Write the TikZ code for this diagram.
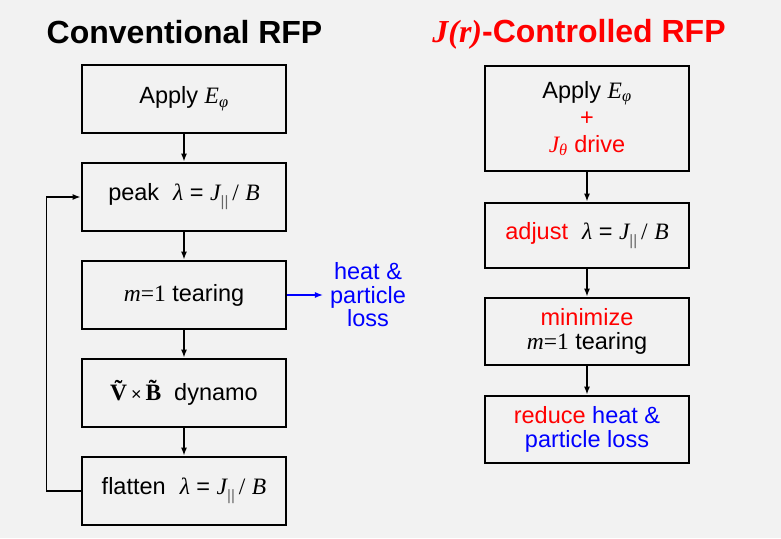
\documentclass[tikz,border=0pt]{standalone}
\usepackage[no-math]{fontspec}
\setmainfont{Liberation Sans}
\newfontfamily\headserif{Liberation Serif}
\usepackage{xcolor}
\usepackage{tikz}
\usetikzlibrary{arrows.meta,positioning}
\definecolor{rfpred}{RGB}{255,0,0}
\definecolor{rfpblue}{RGB}{0,0,255}
\definecolor{rfpbg}{RGB}{242,242,242}
\newcommand\rfpvar[1]{{\headserif\itshape #1}}
\newcommand\rfplambda{\rfpvar{λ} = \rfpvar{J}\raisebox{-6pt}{\fontsize{15}{15}\selectfont\color{black!60}||}\,{\headserif/} \rfpvar{B}}

\begin{document}
\begin{tikzpicture}[x=1pt, y=-1pt, font=\fontsize{23.5}{27}\selectfont, node distance=27.3pt, >={Latex[length=8pt,width=6pt]}]
  \tikzset{flowbox/.style={draw, line width=2.7pt, align=center, minimum width=204pt, minimum height=68pt, inner sep=2pt},heading/.style={font=\fontsize{32}{34}\selectfont\bfseries, anchor=base},link/.style={->, line width=1.5pt}}
  \fill[rfpbg] (0,0) rectangle (781,538);
  % titles
  \node[heading] (convtitle) at (184.5,43) {Conventional RFP};
  \node[heading, text=rfpred] (ctrltitle) at (579,42) {{\headserif\itshape J(r)}-Controlled RFP};
  % conventional chain
  \node[flowbox] (apply) at (184,99) {Apply \rfpvar{E}\textsubscript{\rfpvar{φ}}};
  \node[flowbox, below=of apply] (peak) {peak\hspace{14pt}\rfplambda};
  \node[flowbox, below=of peak] (tearing) {\rfpvar{m}{\headserif =1} tearing};
  \node[flowbox, below=of tearing] (dynamo) {{\headserif\bfseries\~{V}}\,{\fontsize{18}{18}\selectfont ×}\,{\headserif\bfseries\~{B}}\hspace{13pt}dynamo};
  \node[flowbox, below=of dynamo] (flatten) {flatten\hspace{14pt}\rfplambda};
  \node[align=center, text=rfpblue, font=\fontsize{23.5}{23.5}\selectfont, inner sep=0pt] (loss) at (368,295) {heat \&\\particle\\loss};
  \draw[link] (apply) -- (peak);
  \draw[link] (peak) -- (tearing);
  \draw[link] (tearing) -- (dynamo);
  \draw[link] (dynamo) -- (flatten);
  \draw[link] (flatten.west) -- ++(-34,0) |- (peak.west);
  \draw[link, rfpblue, line width=1.2pt, shorten >=7pt] (tearing.east) -- (tearing.east -| loss.west);
  % controlled chain
  \node[flowbox, minimum height=105pt] (applyJ) at (587,118.5) {Apply \rfpvar{E}\textsubscript{\rfpvar{φ}}\\\textcolor{rfpred}{+}\\\textcolor{rfpred}{\rfpvar{J}\textsubscript{\rfpvar{θ}} drive}};
  \node[flowbox, minimum height=65pt, below=29.3pt of applyJ] (adjust) {\textcolor{rfpred}{adjust}\hspace{14pt}\rfplambda};
  \node[flowbox, minimum height=67pt, below=27.3pt of adjust] (minimize) {\textcolor{rfpred}{minimize}\\[-3pt]\rfpvar{m}{\headserif =1} tearing};
  \node[flowbox, minimum height=67pt, below=28.3pt of minimize] (reduce) {\textcolor{rfpred}{reduce} \textcolor{rfpblue}{heat \&}\\[-3pt]\textcolor{rfpblue}{particle loss}};
  \draw[link] (applyJ) -- (adjust);
  \draw[link] (adjust) -- (minimize);
  \draw[link] (minimize) -- (reduce);
\end{tikzpicture}
\end{document}
